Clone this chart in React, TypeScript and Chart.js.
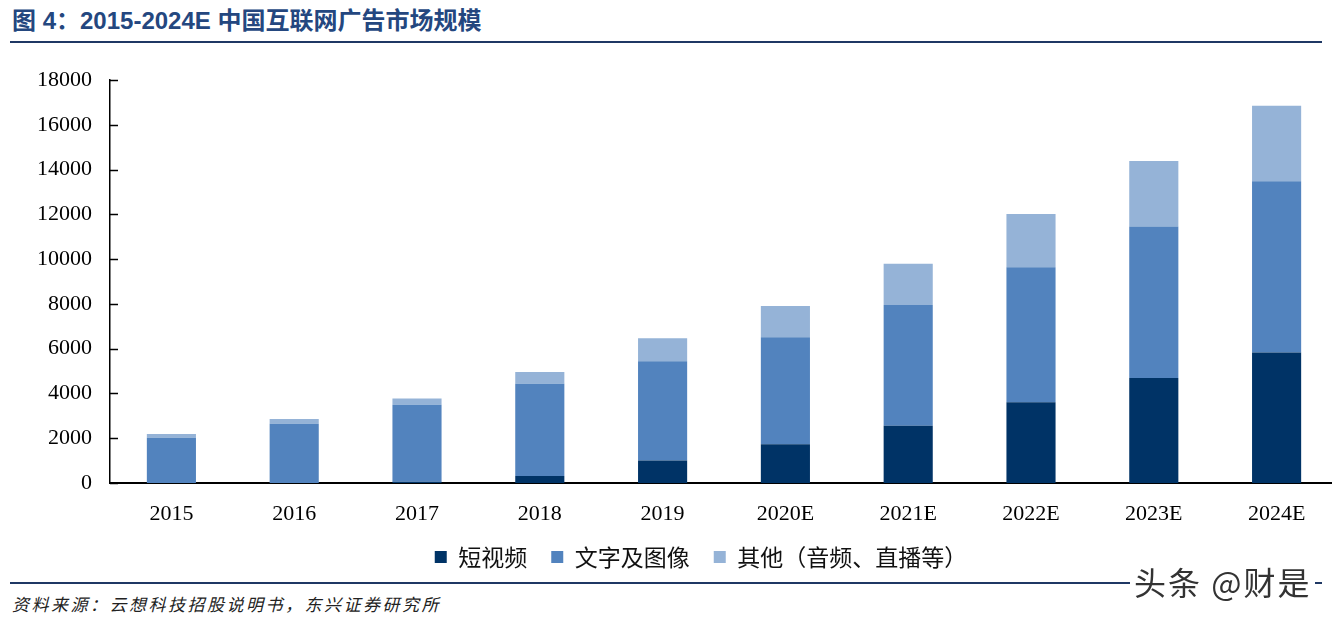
import React, { useEffect, useRef } from "react";
import { Chart, registerables } from "chart.js";

Chart.register(...registerables);

const categories = ["2015", "2016", "2017", "2018", "2019", "2020E", "2021E", "2022E", "2023E", "2024E"];
const shortVideo = [0, 0, 60, 310, 1010, 1730, 2560, 3610, 4690, 5830];
const textImage = [2020, 2650, 3440, 4120, 4430, 4780, 5390, 6030, 6770, 7650];
const others = [170, 210, 270, 530, 1030, 1400, 1840, 2370, 2920, 3370];
const seriesNames = ["短视频", "文字及图像", "其他（音频、直播等）"];
const seriesColors = ["#003366", "#5283BE", "#95B3D7"];

const TITLE = "图 4：2015-2024E 中国互联网广告市场规模";
const SOURCE = "资料来源：云想科技招股说明书，东兴证券研究所";
const WATERMARK = "头条 @财是";

const innerTicks = {
  id: "innerTicks",
  afterDraw(chart: any) {
    const y = chart.scales.y;
    const ctx = chart.ctx;
    const left = chart.chartArea.left;
    ctx.save();
    ctx.strokeStyle = "#000";
    ctx.lineWidth = 1.5;
    y.ticks.forEach((t: any) => {
      const py = Math.round(y.getPixelForValue(t.value)) + 0.5;
      ctx.beginPath();
      ctx.moveTo(left, py);
      ctx.lineTo(left + 8, py);
      ctx.stroke();
    });
    ctx.restore();
  },
};

export default function App() {
  const ref = useRef<HTMLCanvasElement | null>(null);
  useEffect(() => {
    if (!ref.current) return;
    const tickFont = { family: "'Liberation Serif', 'Times New Roman', serif", size: 22, lineHeight: 1 };
    const chart = new Chart(ref.current, {
      type: "bar",
      data: {
        labels: categories,
        datasets: [shortVideo, textImage, others].map((d, i) => ({
          label: seriesNames[i],
          data: d,
          backgroundColor: seriesColors[i],
          borderWidth: 0,
          categoryPercentage: 1,
          barPercentage: 0.4,
          yAxisID: "y",
        })),
      },
      options: {
        animation: false,
        responsive: true,
        maintainAspectRatio: false,
        layout: { padding: { left: 30, right: 0, top: 40, bottom: 6.5 } },
        plugins: {
          tooltip: { enabled: false },
          legend: {
            position: "bottom",
            labels: {
              boxWidth: 12,
              boxHeight: 12,
              padding: 24,
              color: "#111",
              font: { family: "'Noto Sans CJK SC', sans-serif", size: 23 },
            },
          },
        },
        scales: {
          x: {
            stacked: true,
            grid: { display: false, drawTicks: false },
            border: { display: true, color: "#000", width: 2 },
            ticks: { color: "#000", font: tickFont, padding: 20, maxRotation: 0 },
            afterFit: (s: any) => {
              s.height = 38.5;
            },
          },
          y: {
            stacked: true,
            min: 0,
            max: 18000,
            grid: { display: false, drawTicks: false },
            border: { display: true, color: "#000", width: 1.5 },
            ticks: {
              stepSize: 2000,
              color: "#000",
              font: tickFont,
              padding: 18,
              callback: (v: any) => String(v),
            },
            afterFit: (s: any) => {
              s.width = 80;
            },
          },
          spacer: {
            position: "right",
            display: true,
            grid: { display: false, drawTicks: false },
            border: { display: false },
            ticks: { display: false },
            afterFit: (s: any) => {
              s.width = 34;
            },
          },
        },
      },
      plugins: [innerTicks],
    });
    return () => chart.destroy();
  }, []);

  return (
    <div
      style={{
        position: "fixed",
        left: 0,
        top: 0,
        width: 1332,
        height: 619,
        overflow: "hidden",
        background: "#fff",
      }}
    >
      <div
        style={{
          position: "absolute",
          left: 12,
          top: 6,
          fontFamily: "'Liberation Sans', 'Noto Sans CJK SC', sans-serif",
          fontWeight: 700,
          fontSize: 24,
          color: "#24477F",
          whiteSpace: "nowrap",
          lineHeight: "30px",
        }}
      >
        {TITLE}
      </div>
      <div style={{ position: "absolute", left: 10, top: 41, width: 1312, height: 2, background: "#1F3864" }} />
      <div style={{ position: "absolute", left: 0, top: 40, width: 1372, height: 545 }}>
        <canvas ref={ref} />
      </div>
      <div style={{ position: "absolute", left: 10, top: 582, width: 1312, height: 2, background: "#1F3864" }} />
      <div
        style={{
          position: "absolute",
          left: 12,
          top: 592,
          fontFamily: "'Noto Sans CJK SC', sans-serif",
          fontStyle: "italic",
          fontSize: 17,
          letterSpacing: 2.5,
          color: "#222",
          whiteSpace: "nowrap",
          lineHeight: "24px",
        }}
      >
        {SOURCE}
      </div>
      <div
        style={{
          position: "absolute",
          left: 1130,
          top: 560,
          padding: "0 4px",
          background: "#fff",
          fontFamily: "'Noto Sans CJK SC', sans-serif",
          fontSize: 32,
          letterSpacing: 2,
          color: "#333",
          whiteSpace: "nowrap",
          lineHeight: "42px",
        }}
      >
        {WATERMARK}
      </div>
    </div>
  );
}
